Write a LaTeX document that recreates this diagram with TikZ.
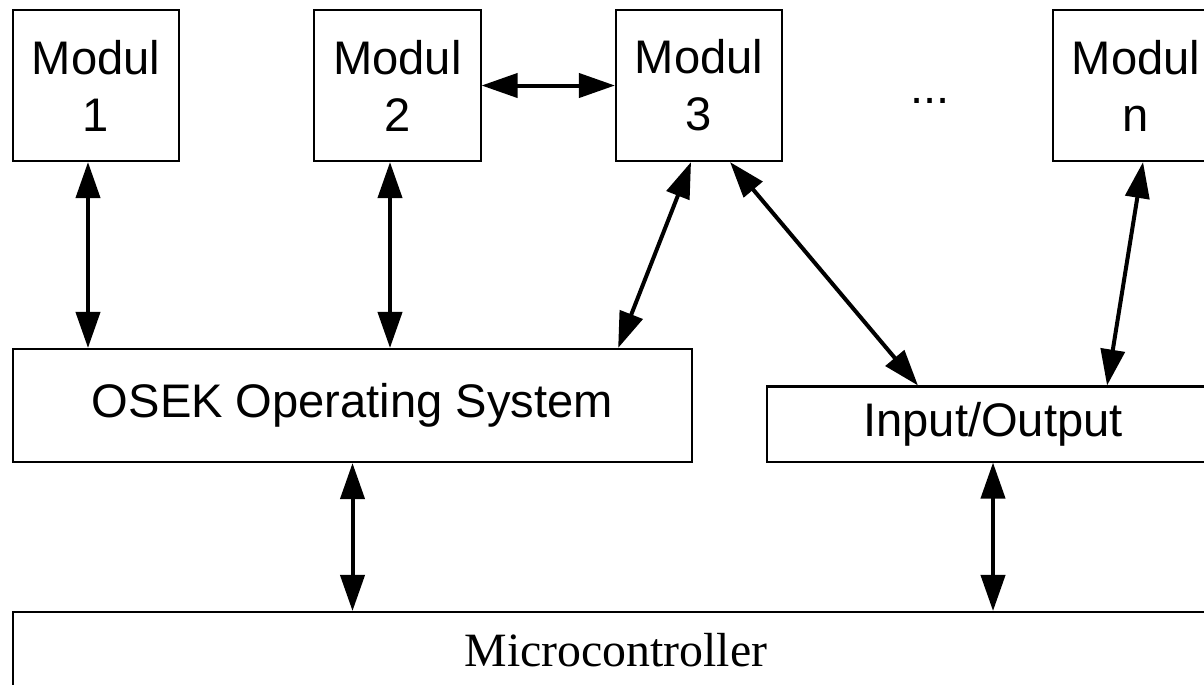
\documentclass[tikz,border=0pt]{standalone}
\usepackage{fontspec}
\setmainfont{Liberation Sans}
\newfontfamily\timesfont{Liberation Serif}
\usetikzlibrary{arrows.meta}
\begin{document}
\begin{tikzpicture}[x=0.01cm,y=-0.01cm,
  box/.style={draw,line width=0.57pt,inner sep=0,align=center,font=\fontsize{13.4}{16.2}\selectfont},
  modbox/.style={box,minimum width=1.66cm,minimum height=1.51cm},
  link/.style={line width=1.14pt,{Triangle[length=3.6mm,width=2.4mm]}-{Triangle[length=3.6mm,width=2.4mm]}}]
\useasboundingbox (0,0) rectangle (1204,684);
\clip (0,0) rectangle (1204,684);
% modules
\node[modbox] (m1) at (96,85.5) {Modul\\1};
\node[modbox] (m2) at (397.5,85.5) {Modul\\2};
\node[modbox] (m3) at (699,85.5) {Modul\\3};
\node[modbox] (mn) at (1136,85.5) {Modul\\n};
\node[font=\fontsize{13.4}{16.2}\selectfont] (dots) at (930,101) {...};
% layers
\node[box,minimum width=6.79cm,minimum height=1.13cm] (os) at (352.5,405.5) {OSEK Operating System};
\node[box,minimum width=4.52cm,minimum height=0.75cm] (io) at (993,424) {Input/Output};
\node[box,minimum width=12.06cm,minimum height=0.76cm,font=\timesfont\fontsize{13.6}{16.2}\selectfont] (mc) at (616,650) {Microcontroller};
% connections
\draw[link] ([xshift=-0.08cm]m1.south) -- ([xshift=-0.08cm]m1.south |- os.north);
\draw[link] ([xshift=-0.075cm]m2.south) -- ([xshift=-0.075cm]m2.south |- os.north);
\draw[link] (m2.east) -- (m3.west);
\draw[link] ([xshift=-0.08cm]m3.south) -- ([xshift=-0.75cm]os.north east);
\draw[link] ([xshift=0.31cm]m3.south) -- ([xshift=-0.75cm]io.north);
\draw[link] ([xshift=0.07cm]mn.south) -- ([xshift=1.14cm]io.north);
\draw[link] (os.south) -- (os.south |- mc.north);
\draw[link] (io.south) -- (io.south |- mc.north);
\end{tikzpicture}
\end{document}
